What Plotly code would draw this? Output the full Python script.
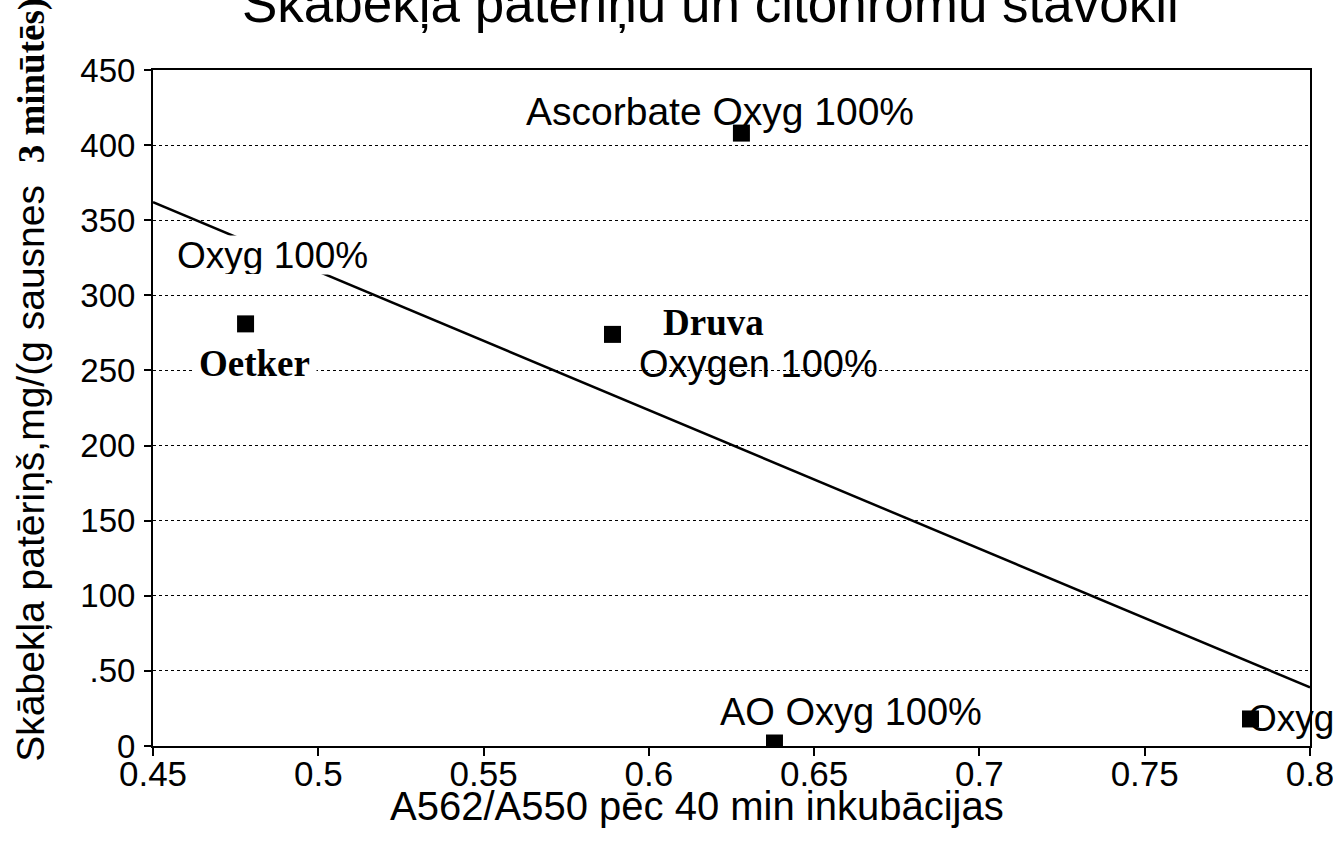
import plotly.graph_objects as go

# ---- data ----
samples = ["Oetker", "Druva", "Ascorbate", "AO", "Oxyg"]
ratio_a562_a550 = [0.478, 0.589, 0.628, 0.638, 0.782]
oxygen_consumption = [281, 274, 408, 2, 18]

trend_x = [0.45, 0.80]
trend_y = [362, 39]

x_ticks = [0.45, 0.5, 0.55, 0.6, 0.65, 0.7, 0.75, 0.8]
x_tick_labels = ["0.45", "0.5", "0.55", "0.6", "0.65", "0.7", "0.75", "0.8"]
y_ticks = [0, 50, 100, 150, 200, 250, 300, 350, 400, 450]
y_tick_labels = ["0", ".50", "100", "150", "200", "250", "300", "350", "400", "450"]

# point labels: (text, sample index)
label_texts = ["Oetker", "Oxyg 100%", "Druva", "Oxygen 100%",
               "Ascorbate Oxyg 100%", "AO Oxyg 100%", "Oxyg"]
label_points = [0, 0, 1, 1, 2, 3, 4]

title_text = "Skābekļa patēriņu un citohromu stāvokli"
x_title = "A562/A550 pēc 40 min inkubācijas"
y_title_sans = "Skābekļa patēriņš,mg/(g sausnes"
y_title_serif = "3 minūtēs)"

# ---- styling ----
SANS = "Liberation Sans, Arial, sans-serif"
SERIF = "Liberation Serif, Times New Roman, serif"


def f(fam, size):
    return dict(family=fam, size=size, color="black")


label_style = {
    "Oetker": dict(dx=9, dy=-40, font=f(SERIF, 37), bg="white", pad=6, bold=True, h=None),
    "Oxyg 100%": dict(dx=27, dy=69, font=f(SANS, 37), bg="white", pad=0, bold=False, h=38),
    "Druva": dict(dx=101, dy=12, font=f(SERIF, 37), bg=None, pad=1, bold=True, h=None),
    "Oxygen 100%": dict(dx=146, dy=-30, font=f(SANS, 38), bg=None, pad=1, bold=False, h=None),
    "Ascorbate Oxyg 100%": dict(dx=-21, dy=22, font=f(SANS, 39), bg=None, pad=1, bold=False, h=None),
    "AO Oxyg 100%": dict(dx=77, dy=31, font=f(SANS, 38), bg=None, pad=1, bold=False, h=None),
    "Oxyg": dict(dx=40, dy=0, font=f(SANS, 37), bg=None, pad=1, bold=False, h=None),
}

fig = go.Figure()

fig.add_trace(go.Scatter(
    x=trend_x, y=trend_y, mode="lines",
    line=dict(color="black", width=2.5),
    hoverinfo="skip", showlegend=False,
))

fig.add_trace(go.Scatter(
    x=ratio_a562_a550, y=oxygen_consumption, mode="markers",
    text=samples,
    marker=dict(symbol="square", size=17, color="black", line=dict(width=0)),
    showlegend=False,
))

for txt, idx in zip(label_texts, label_points):
    st = label_style[txt]
    kw = {}
    if st["h"]:
        kw["height"] = st["h"]
    fig.add_annotation(
        x=ratio_a562_a550[idx], y=oxygen_consumption[idx],
        xref="x", yref="y",
        text=f"<b>{txt}</b>" if st["bold"] else txt,
        showarrow=False, xshift=st["dx"], yshift=st["dy"],
        xanchor="center", yanchor="middle",
        font=st["font"],
        bgcolor=st["bg"] if st["bg"] else "rgba(0,0,0,0)",
        borderpad=st["pad"],
        **kw,
    )

# title (top partly outside the page, as in the scan)
fig.add_annotation(
    x=0.482, y=1.099, xref="paper", yref="paper",
    text=title_text, showarrow=False,
    xanchor="center", yanchor="middle",
    font=f(SANS, 53),
)

# x-axis title
fig.add_annotation(
    x=0.47, y=-0.089, xref="paper", yref="paper",
    text=x_title, showarrow=False,
    xanchor="center", yanchor="middle",
    font=f(SANS, 40),
)

# y-axis title with mixed fonts
fig.add_annotation(
    x=-0.1054, y=0.542, xref="paper", yref="paper",
    text=(f"{y_title_sans}  "
          f"<span style=\"font-family:'Liberation Serif',serif;font-weight:bold;font-size:37px\">{y_title_serif}</span>"),
    showarrow=False, textangle=-90,
    xanchor="center", yanchor="middle",
    font=f(SANS, 39),
)

fig.update_layout(
    width=1333, height=850,
    margin=dict(l=153, r=23, t=70, b=104, autoexpand=False),
    paper_bgcolor="white", plot_bgcolor="white",
    font=dict(family=SANS, color="black"),
    showlegend=False,
)

fig.update_xaxes(
    range=[0.45, 0.8], tickmode="array", tickvals=x_ticks, ticktext=x_tick_labels,
    showgrid=False, zeroline=False, automargin=False,
    showline=True, linecolor="black", linewidth=2, mirror=True,
    ticks="outside", ticklen=8, tickwidth=2, tickcolor="black",
    tickfont=f(SANS, 35),
    ticklabelstandoff=-12, ticklabeloverflow="allow",
)

fig.update_yaxes(
    range=[0, 450], tickmode="array", tickvals=y_ticks, ticktext=y_tick_labels,
    showgrid=True, gridcolor="black", gridwidth=1, griddash="dot",
    zeroline=False, automargin=False,
    showline=True, linecolor="black", linewidth=2, mirror=True,
    ticks="outside", ticklen=7, tickwidth=2, tickcolor="black",
    tickfont=f(SANS, 33),
    ticklabelstandoff=2,
)

fig.write_html(
    "out.html",
    config={"displayModeBar": False},
    post_script="document.body.style.margin='0';document.body.style.overflow='hidden';",
)
